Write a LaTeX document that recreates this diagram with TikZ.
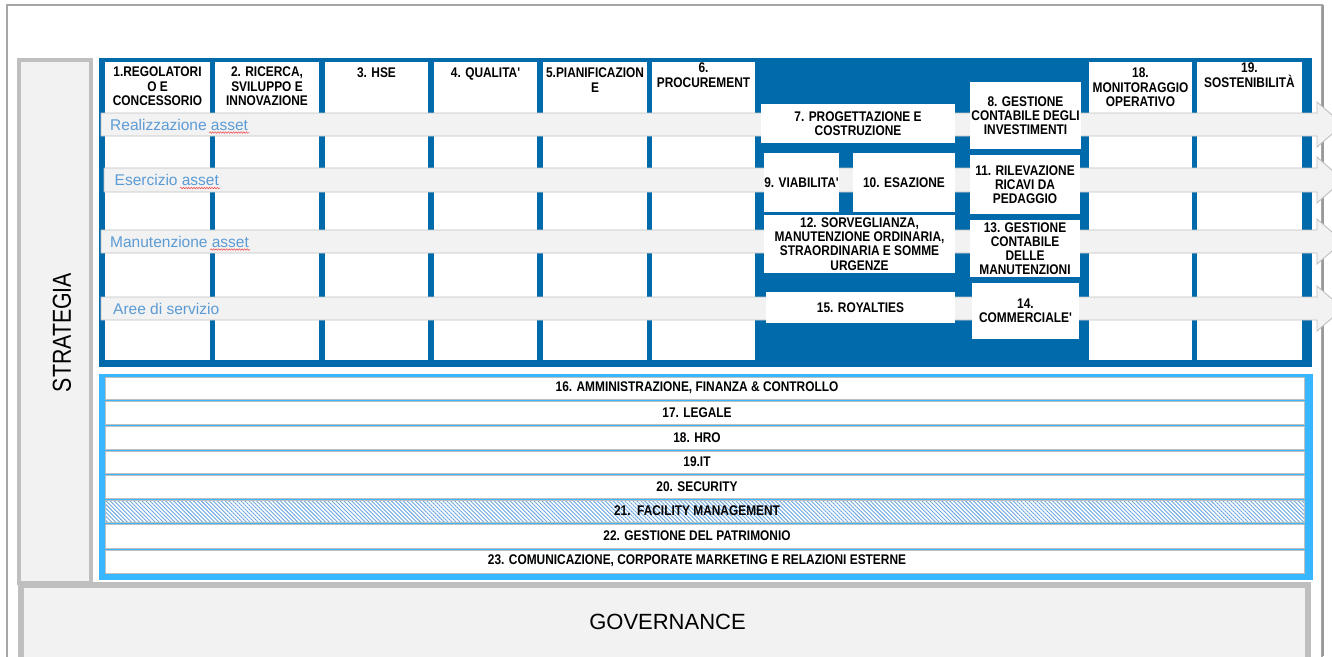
\documentclass[tikz,border=0pt]{standalone}
\usepackage{fontspec}
\setmainfont{Liberation Sans}
\newfontfamily\hdrfont{Liberation Sans}[FakeStretch=0.85]
\newfontfamily\narrowfont{Liberation Sans}[FakeStretch=0.82]
\usetikzlibrary{patterns.meta,decorations.pathmorphing}
\definecolor{dblue}{RGB}{0,106,171}
\definecolor{lblue}{RGB}{56,182,255}
\definecolor{bandgray}{RGB}{242,242,242}
\definecolor{bordgray}{RGB}{191,191,191}
\definecolor{lblcol}{RGB}{91,155,213}
\definecolor{hatchcol}{RGB}{105,165,225}
\definecolor{framegray}{RGB}{166,166,166}
\definecolor{squigred}{RGB}{240,70,70}
\begin{document}
\begin{tikzpicture}[x=1pt,y=-1pt,
  hdr/.style={font=\hdrfont\bfseries\fontsize{14}{14.5}\selectfont, align=center, inner sep=0pt, anchor=north, text=black},
  dbox/.style={fill=white, inner sep=0pt, align=center, font=\hdrfont\bfseries\fontsize{14}{14.2}\selectfont, text=black},
  rowbox/.style={fill=white, draw=bordgray, line width=0.8pt},
  rowtxt/.style={font=\hdrfont\bfseries\fontsize{14}{14.2}\selectfont, inner sep=0pt, text=black},
  band/.style={fill=bandgray, draw=bordgray, line width=0.9pt},
  lbl/.style={font=\fontsize{15.5}{16}\selectfont, text=lblcol, inner sep=0pt, anchor=west},
  squig/.style={draw=squigred, line width=0.5pt, decorate, decoration={snake, amplitude=0.8pt, segment length=2.6pt}},
  colcell/.style={fill=white}
]
\useasboundingbox (0,0) rectangle (1332,656);
\clip (0,0) rectangle (1332,656);
\fill[white] (0,0) rectangle (1332,656);
% outer frame
\draw[framegray, line width=1.2pt] (7,5) rectangle (1322,700);
\draw[gray!80, line width=2pt] (1322.5,5) -- (1322.5,656);
% strategia
\draw[fill=bandgray, draw=bordgray, line width=4pt] (19,60) rectangle (91,583);
\node[font=\narrowfont\fontsize{26}{26}\selectfont, rotate=90, text=black, inner sep=0pt] (strat) at (62,332.5) {STRATEGIA};
% governance
\draw[fill=bandgray, draw=bordgray, line width=6pt] (20.5,585) rectangle (1308,700);
\node[font=\fontsize{22}{22}\selectfont, text=black, inner sep=0pt] (gov) at (667.5,622) {GOVERNANCE};
% dark blue frame
\fill[dblue] (99,58) rectangle (1312,367);
\fill[colcell] (105,62) rectangle (210,360);
\fill[colcell] (215,62) rectangle (319,360);
\fill[colcell] (325,62) rectangle (428,360);
\fill[colcell] (434,62) rectangle (537,360);
\fill[colcell] (543,62) rectangle (647,360);
\fill[colcell] (652,62) rectangle (755,360);
\fill[colcell] (1089,62) rectangle (1192,360);
\fill[colcell] (1197,62) rectangle (1302,360);
% bands
\draw[band] (101,113) -- (1317,113) -- (1317,102) -- (1343,124.5) -- (1317,147) -- (1317,136) -- (101,136) -- cycle;
\draw[band] (104,168) -- (1317,168) -- (1317,157) -- (1343,180) -- (1317,203) -- (1317,192) -- (104,192) -- cycle;
\draw[band] (101,230) -- (1317,230) -- (1317,219) -- (1343,241.5) -- (1317,264) -- (1317,253) -- (101,253) -- cycle;
\draw[band] (101,297) -- (1317,297) -- (1317,286) -- (1343,308.5) -- (1317,331) -- (1317,320) -- (101,320) -- cycle;
\node[lbl] (l1) at (110,124.5) {Realizzazione asset};
\node[lbl] (l2) at (114.5,180) {Esercizio asset};
\node[lbl] (l3) at (110,241.5) {Manutenzione asset};
\node[lbl] (l4) at (113,308.5) {Aree di servizio};
\draw[squig] ([shift={(-39,2.5)}]l1.base east) -- ([shift={(1,2.5)}]l1.base east);
\draw[squig] ([shift={(-39,2.5)}]l2.base east) -- ([shift={(1,2.5)}]l2.base east);
\draw[squig] ([shift={(-39,2.5)}]l3.base east) -- ([shift={(1,2.5)}]l3.base east);
% header texts
\node[hdr] (h1) at (157.5,67) {1.REGOLATORI\\O E\\CONCESSORIO};
\node[hdr] (h2) at (267,67) {2. RICERCA,\\SVILUPPO E\\INNOVAZIONE};
\node[hdr] (h3) at (376.5,68) {3. HSE};
\node[hdr] (h4) at (485.5,68) {4. QUALITA'};
\node[hdr] (h5) at (595,68) {5.PIANIFICAZION\\E};
\node[hdr] (h6) at (703.5,63) {6.\\PROCUREMENT};
\node[hdr] (h18) at (1140.5,68) {18.\\MONITORAGGIO\\OPERATIVO};
\node[hdr] (h19) at (1249.5,63) {19.\\SOSTENIBILITÀ};
% central boxes
\node[dbox, minimum width=194pt, minimum height=39pt] (b7) at (858,123.5) {7. PROGETTAZIONE E\\COSTRUZIONE};
\node[dbox, minimum width=111pt, minimum height=67pt] (b8) at (1025.5,115.5) {8. GESTIONE\\CONTABILE DEGLI\\INVESTIMENTI};
\node[dbox, minimum width=75pt, minimum height=59pt] (b9) at (801.5,182.5) {9. VIABILITA'};
\node[dbox, minimum width=102pt, minimum height=59pt] (b10) at (904,182.5) {10. ESAZIONE};
\node[dbox, minimum width=110pt, minimum height=59pt] (b11) at (1025,184.5) {11. RILEVAZIONE\\RICAVI DA\\PEDAGGIO};
\node[dbox, minimum width=191pt, minimum height=58pt] (b12) at (859.5,244) {12. SORVEGLIANZA,\\MANUTENZIONE ORDINARIA,\\STRAORDINARIA E SOMME\\URGENZE};
\node[dbox, minimum width=110pt, minimum height=57pt] (b13) at (1025,248.5) {13. GESTIONE\\CONTABILE\\DELLE\\MANUTENZIONI};
\node[dbox, minimum width=107pt, minimum height=56pt] (b14) at (1025.5,311) {14.\\COMMERCIALE'};
\node[dbox, minimum width=189pt, minimum height=31pt] (b15) at (860.5,307.5) {15. ROYALTIES};
% lower frame
\fill[lblue] (99,374) rectangle (1313,580);
\draw[rowbox] (105,377) rectangle (1304,399.5);
\draw[rowbox] (105,401) rectangle (1304,424.5);
\draw[rowbox] (105,426) rectangle (1304,449.5);
\draw[rowbox] (105,451) rectangle (1304,473.5);
\draw[rowbox] (105,475) rectangle (1304,498.5);
\draw[rowbox] (105,500) rectangle (1304,522.5);
\fill[pattern={Lines[angle=-45,distance=2.8pt,line width=0.9pt]}, pattern color=hatchcol] (105,500) rectangle (1304,522.5);
\draw[bordgray, line width=0.8pt] (105,500) rectangle (1304,522.5);
\draw[rowbox] (105,524) rectangle (1304,548);
\draw[rowbox] (105,550) rectangle (1304,573);
\node[rowtxt] (r16) at (697,388) {16. AMMINISTRAZIONE, FINANZA \& CONTROLLO};
\node[rowtxt] (r17) at (697,412.5) {17. LEGALE};
\node[rowtxt] (r18) at (697,437.5) {18. HRO};
\node[rowtxt] (r19) at (697,462) {19.IT};
\node[rowtxt] (r20) at (697,486.5) {20. SECURITY};
\node[rowtxt] (r21) at (697,511) {21.\ \ FACILITY MANAGEMENT};
\node[rowtxt] (r22) at (697,535.5) {22. GESTIONE DEL PATRIMONIO};
\node[rowtxt] (r23) at (697,561) {23. COMUNICAZIONE, CORPORATE MARKETING E RELAZIONI ESTERNE};
\end{tikzpicture}
\end{document}
